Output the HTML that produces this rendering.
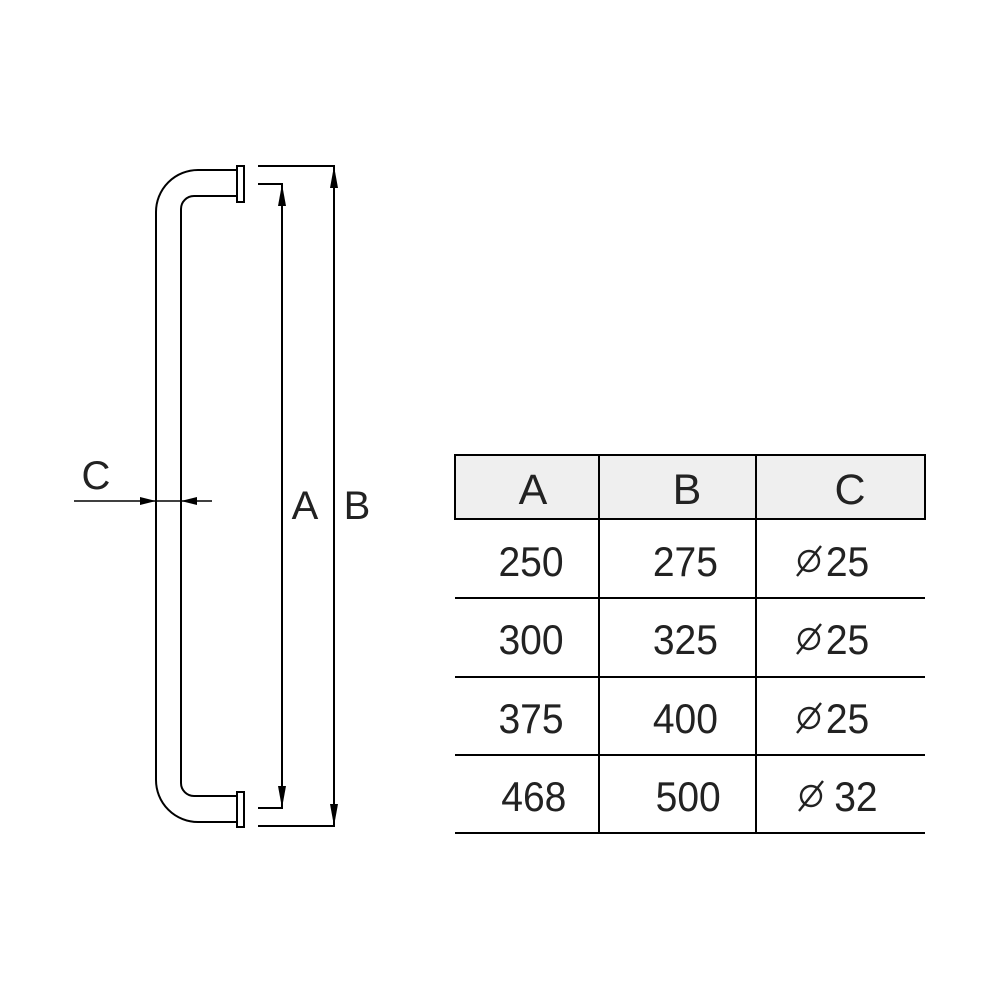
<!DOCTYPE html>
<html><head><meta charset="utf-8"><style>html,body{margin:0;padding:0;background:#fff}svg{display:block}</style></head>
<body>
<svg width="1000" height="1000" viewBox="0 0 1000 1000" xmlns="http://www.w3.org/2000/svg" font-family="Liberation Sans, Arial, sans-serif" fill="#222">
<g fill="none" stroke="#000" stroke-width="2">
  <path d="M237 170 H198 A42 42 0 0 0 156 212 V780 A42 42 0 0 0 198 822 H237"/>
  <path d="M237 196 H194 A13 13 0 0 0 181 209 V783 A13 13 0 0 0 194 796 H237"/>
  <rect x="237" y="166" width="7" height="36" fill="#fff"/>
  <rect x="237" y="792" width="7" height="35" fill="#fff"/>
  <path d="M258 166 H334 V826 H258"/>
  <path d="M258 184 H282 V808 H258"/>
  <path d="M74 501 H212" stroke-width="1.6"/>
</g>
<g fill="#000">
  <path d="M282 184 l-4 22 h8z"/>
  <path d="M282 808 l-4 -22 h8z"/>
  <path d="M334 166 l-4 22 h8z"/>
  <path d="M334 826 l-4 -22 h8z"/>
  <path d="M156 501 l-16 -4 v8z"/>
  <path d="M181 501 l16 -4 v8z"/>
</g>
<g font-size="40" fill="#222" text-anchor="middle">
  <text x="96" y="489">C</text>
  <text x="305" y="519">A</text>
  <text x="357" y="519">B</text>
</g>
<rect x="455" y="455" width="470" height="64" fill="#efefef" stroke="#000" stroke-width="2"/>
<g stroke="#000" stroke-width="2">
  <path d="M599 455 V833 M756 455 V833"/>
  <path d="M455 598 H925 M455 677 H925 M455 755 H925 M455 833 H925"/>
</g>
<g font-size="43" text-anchor="middle" fill="#222">
  <text x="533" y="504">A</text><text x="687" y="504">B</text><text x="850" y="504">C</text>
</g>
<g font-size="42" text-anchor="middle" fill="#222" transform="scale(0.93,1)">
  <text x="571" y="576">250</text><text x="737" y="576">275</text>
  <text x="571" y="654">300</text><text x="737" y="654">325</text>
  <text x="571" y="733">375</text><text x="737" y="733">400</text>
  <text x="574" y="811">468</text><text x="740" y="811">500</text>
</g>
<g font-size="42" text-anchor="start" fill="#222" transform="scale(0.93,1)">
  <text x="888" y="576">25</text>
  <text x="888" y="654">25</text>
  <text x="888" y="733">25</text>
  <text x="897" y="811">32</text>
</g>
<g fill="none" stroke="#222" stroke-width="2.4">
  <circle cx="809" cy="561" r="10"/><path d="M797 576 L821 546"/>
  <circle cx="809" cy="639" r="10"/><path d="M797 654 L821 624"/>
  <circle cx="809" cy="718" r="10"/><path d="M797 733 L821 703"/>
  <circle cx="811" cy="796" r="10"/><path d="M799 811 L823 781"/>
</g>
</svg>
</body></html>
